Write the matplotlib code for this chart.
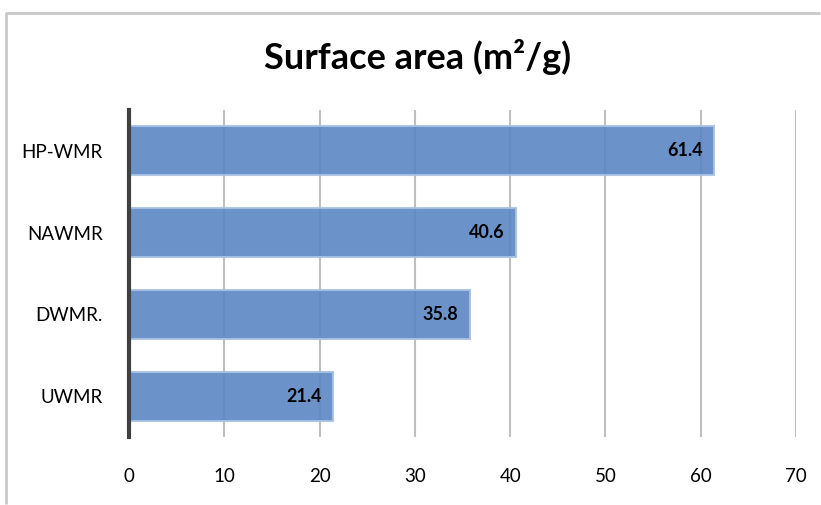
import matplotlib.pyplot as plt
from matplotlib.lines import Line2D

# data
samples = ["UWMR", "DWMR.", "NAWMR", "HP-WMR"]
area = [21.4, 35.8, 40.6, 61.4]
xticks = [0, 10, 20, 30, 40, 50, 60, 70]

plt.rcParams["font.family"] = ["Lato", "DejaVu Sans"]

W, H = 821, 505
fig = plt.figure(figsize=(W / 100, H / 100), dpi=100)
ax = fig.add_axes([129 / W, 1 - 437 / H, (796 - 129) / W, (437 - 110) / H])

# chart frame: left and top edges of the chart area (kept inside the canvas)
top = 1 - 12.5 / H
fig.add_artist(Line2D([6 / W, 6 / W, (W - 1) / W], [1 / H, top, top],
                      transform=fig.transFigure, color="#C8C8C8",
                      linewidth=2, solid_capstyle="butt"))

y = range(len(samples))
ax.barh(y, area, height=0.6, color="#5B87C3", alpha=0.9,
        edgecolor="#A9C2E3", linewidth=1.5, zorder=2)

for yi, v in zip(y, area):
    ax.text(v - 1.2, yi, f"{v}", ha="right", va="center",
            fontsize=13, fontweight="bold", color="black", zorder=3)

ax.set_xlim(0, 70)
ax.set_ylim(-0.5, len(samples) - 0.5)
ax.set_xticks(xticks)
ax.set_yticks(list(y))
ax.set_yticklabels(samples)
ax.tick_params(axis="both", length=0, labelsize=13.5, colors="black")
ax.tick_params(axis="x", pad=22)
ax.tick_params(axis="y", pad=19)

ax.grid(axis="x", color="#BFBFBF", linewidth=1.5, zorder=1)
for s in ["top", "right", "bottom"]:
    ax.spines[s].set_visible(False)
ax.spines["left"].set_color("#404040")
ax.spines["left"].set_linewidth(3)
ax.spines["left"].set_zorder(4)

fig.text(418 / W, 1 - 57 / H, "Surface area (m²/g)", ha="center", va="center",
         fontsize=26, fontweight="bold")

fig.savefig("out.png", dpi=100, facecolor="white")
